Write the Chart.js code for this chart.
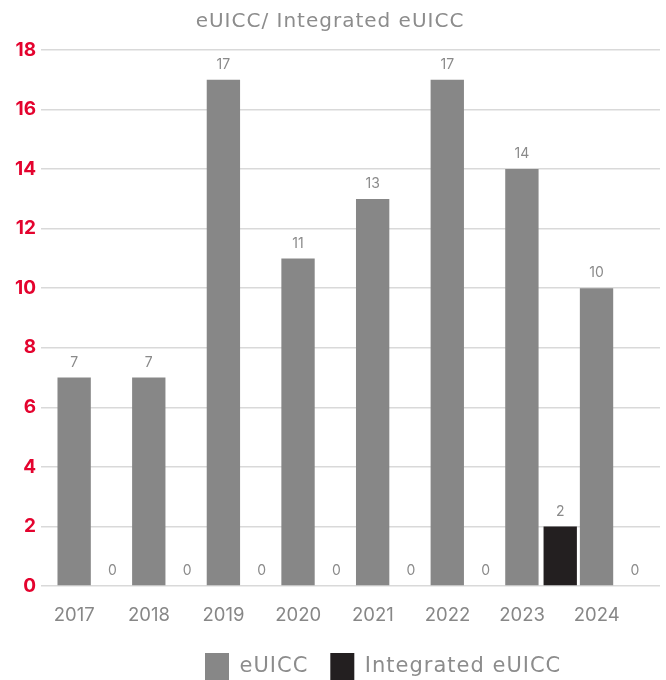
<!DOCTYPE html>
<html>
<head>
<meta charset="utf-8">
<script src="https://cdn.jsdelivr.net/npm/chart.js@4.4.1/dist/chart.umd.min.js"></script>
<style>
  html, body { margin: 0; padding: 0; background: #ffffff; }
  #wrap { width: 666px; height: 680px; overflow: hidden; }
</style>
</head>
<body>
<div id="wrap"><canvas id="c" width="666" height="680"></canvas></div>
<script>
const categories = ['2017', '2018', '2019', '2020', '2021', '2022', '2023', '2024'];
const euiccValues = [7, 7, 17, 11, 13, 17, 14, 10];
const integratedValues = [0, 0, 0, 0, 0, 0, 2, 0];
const seriesNames = ['eUICC', 'Integrated eUICC'];
const titleText = 'eUICC/ Integrated eUICC';
const yTicks = [0, 2, 4, 6, 8, 10, 12, 14, 16, 18];

const FONT = "Inter, 'Open Sans', sans-serif";
const WIDE_FONT = "'DejaVu Sans', 'Open Sans', sans-serif";
const GREY_TEXT = '#8a8a8a';
const GRID = '#d9d9d9';

// value labels above every bar, positioned from the bar elements
const valueLabels = {
  id: 'valueLabels',
  afterDatasetsDraw(chart) {
    const ctx = chart.ctx;
    ctx.save();
    ctx.font = '14px ' + FONT;
    ctx.fillStyle = GREY_TEXT;
    ctx.textAlign = 'center';
    ctx.textBaseline = 'bottom';
    chart.data.datasets.forEach((ds, di) => {
      const meta = chart.getDatasetMeta(di);
      meta.data.forEach((el, i) => {
        ctx.fillText(String(ds.data[i]), el.x, el.y - 8);
      });
    });
    ctx.restore();
  }
};

// slight letter spacing for title and legend (wide geometric look)
const spacedText = {
  id: 'spacedText',
  afterInit(chart) {
    const wrap = (obj, name) => {
      if (!obj || typeof obj[name] !== 'function') return;
      const orig = obj[name].bind(obj);
      obj[name] = function (...args) {
        const ctx = chart.ctx;
        const prev = ctx.letterSpacing;
        ctx.letterSpacing = '1px';
        try { return orig(...args); } finally { ctx.letterSpacing = prev; }
      };
    };
    wrap(chart.legend, 'fit');
    wrap(chart.legend, 'draw');
    wrap(chart.titleBlock, 'draw');
  }
};

// legend row sits right of centre in the reference
const legendShift = {
  id: 'legendShift',
  afterLayout(chart) {
    const lg = chart.legend;
    if (!lg || !lg.lineWidths) return;
    const pad = lg.options.labels.padding;
    const x0 = (lg.left + pad + lg.right - lg.lineWidths[0]) / 2;
    const d = 205 - x0;
    lg.left += d;
    lg.right += d;
  }
};

new Chart(document.getElementById('c'), {
  type: 'bar',
  data: {
    labels: categories,
    datasets: [
      { label: seriesNames[0], data: euiccValues, backgroundColor: '#878787', borderWidth: 0,
        categoryPercentage: 1.027, barPercentage: 0.87 },
      { label: seriesNames[1], data: integratedValues, backgroundColor: '#231f20', borderWidth: 0,
        categoryPercentage: 1.027, barPercentage: 0.87 }
    ]
  },
  plugins: [valueLabels, spacedText, legendShift],
  options: {
    responsive: false,
    animation: false,
    events: [],
    layout: { padding: { left: 0, right: 6, top: 0, bottom: -11 } },
    plugins: {
      title: {
        display: true,
        text: titleText,
        color: '#8c8c8c',
        font: { family: WIDE_FONT, size: 20, weight: 'normal', lineHeight: 1.2 },
        padding: { top: 10, bottom: 16 }
      },
      legend: {
        display: true,
        position: 'bottom',
        labels: {
          boxWidth: 24,
          boxHeight: 28,
          padding: 22,
          color: '#8c8c8c',
          font: { family: WIDE_FONT, size: 21 }
        }
      },
      tooltip: { enabled: false }
    },
    scales: {
      x: {
        grid: { display: false, drawTicks: false },
        border: { display: false },
        ticks: {
          color: '#878787',
          font: { family: FONT, size: 18.5 },
          padding: 18,
          labelOffset: -19,
          maxRotation: 0
        },
        afterFit(scale) { scale.height = 45; }
      },
      y: {
        min: 0,
        max: 18,
        afterBuildTicks(scale) { scale.ticks = yTicks.map(v => ({ value: v })); },
        grid: { color: GRID, lineWidth: 1.5, tickLength: 15, drawTicks: true },
        border: { display: false },
        ticks: {
          color: '#e4032e',
          font: { family: FONT, size: 19, weight: 'bold' },
          padding: 5
        },
        afterFit(scale) { scale.width = 56; }
      },
      y2: {
        position: 'right',
        min: 0,
        max: 18,
        afterBuildTicks(scale) { scale.ticks = yTicks.map(v => ({ value: v })); },
        grid: { color: GRID, lineWidth: 1.5, tickLength: 7, drawTicks: true, drawOnChartArea: false },
        border: { display: false },
        ticks: { display: false },
        afterFit(scale) { scale.width = 7; }
      }
    }
  }
});
</script>
</body>
</html>
